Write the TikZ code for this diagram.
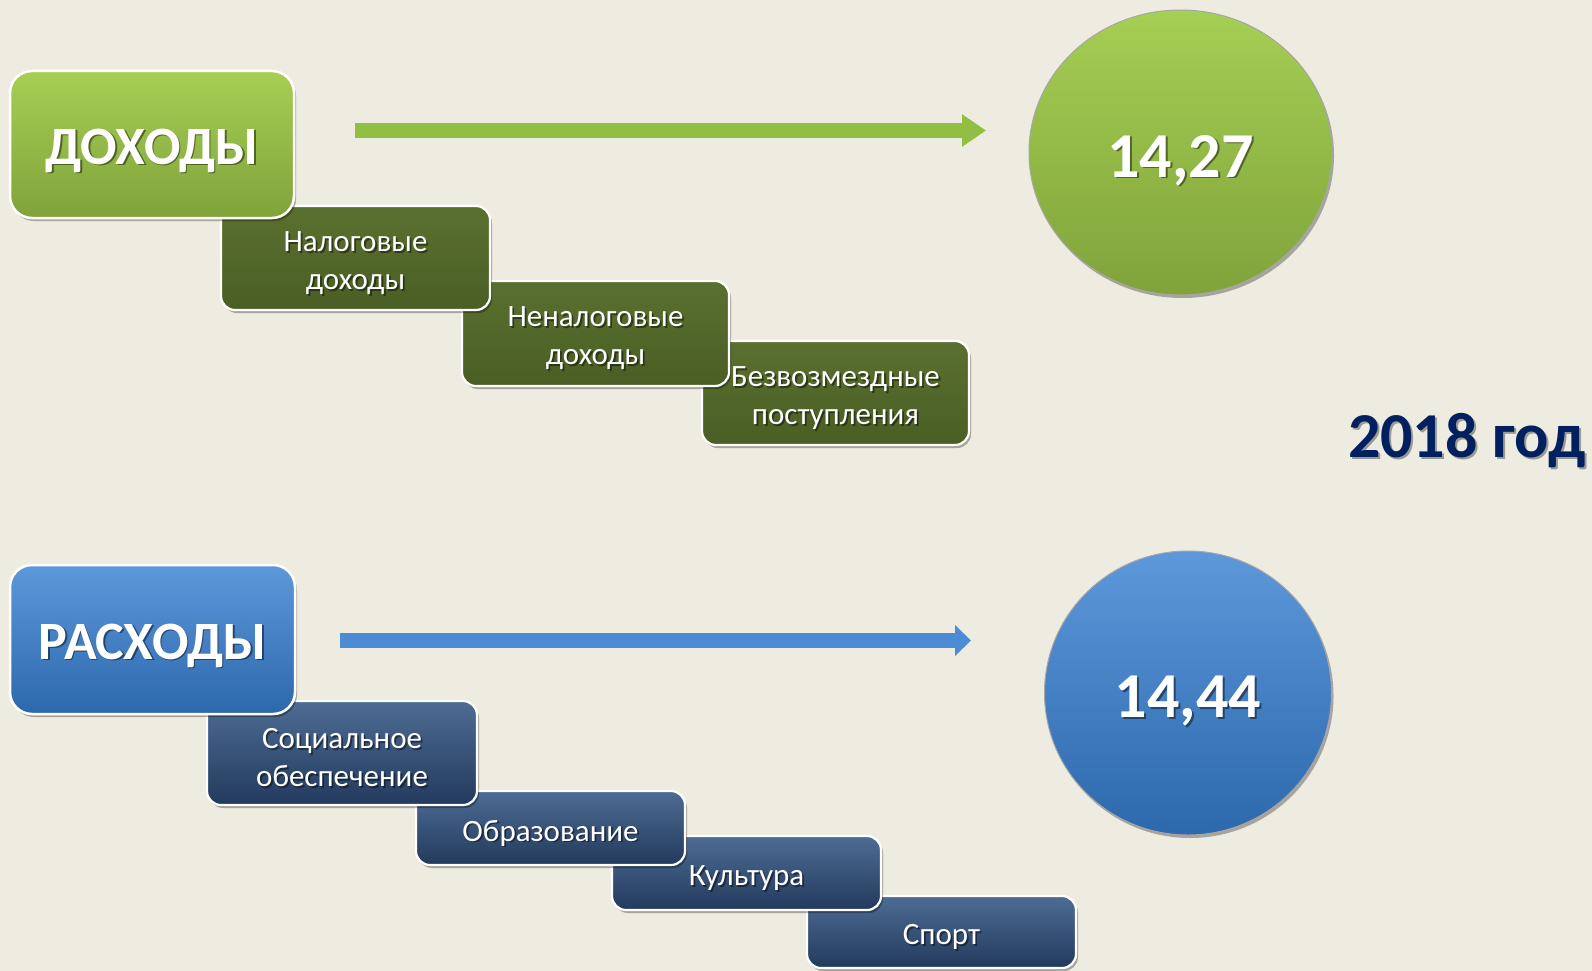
\documentclass[tikz,border=0pt]{standalone}
\usepackage{fontspec}
\setmainfont{Carlito}
\usetikzlibrary{shadows,arrows.meta,shapes.geometric}
\definecolor{bg}{RGB}{238,236,225}
\definecolor{gtop}{RGB}{166,207,84}
\definecolor{gbot}{RGB}{128,163,58}
\definecolor{dgtop}{RGB}{90,112,47}
\definecolor{dgbot}{RGB}{74,94,37}
\definecolor{btop}{RGB}{92,152,218}
\definecolor{bbot}{RGB}{44,104,172}
\definecolor{dbtop}{RGB}{78,108,148}
\definecolor{dbbot}{RGB}{34,58,92}
\definecolor{navy}{RGB}{0,32,96}
\definecolor{garr}{RGB}{146,190,68}
\definecolor{barr}{RGB}{76,140,215}
\newcommand\shtxt[4]{%
  \node[#3, text=black, opacity=0.45] (#1s) at ([shift={(1.8pt,-1.8pt)}]#2) {#4};
  \node[#3, text=white] (#1) at (#2) {#4};}
\tikzset{
  x=1pt, y=-1pt,
  boxshadow/.style={drop shadow={shadow xshift=2pt, shadow yshift=-3pt, opacity=0.3, fill=black}},
  mainbox/.style={rectangle, rounded corners=22pt, draw=white, line width=2.5pt, boxshadow},
  subbox/.style={rectangle, rounded corners=14pt, draw=white, line width=2.2pt, boxshadow},
  greenmain/.style={mainbox, top color=gtop, bottom color=gbot},
  bluemain/.style={mainbox, top color=btop, bottom color=bbot},
  greensub/.style={subbox, top color=dgtop, bottom color=dgbot},
  bluesub/.style={subbox, top color=dbtop, bottom color=dbbot},
  bigtxt/.style={font=\fontsize{54}{64}\selectfont\bfseries, inner sep=0pt, yshift=-6pt},
  subtxt/.style={font=\fontsize{31}{38}\selectfont, align=center, inner sep=0pt, yshift=-5pt},
  numtxt/.style={font=\fontsize{64}{76}\selectfont\bfseries, inner sep=0pt, yshift=-8pt},
  ball/.style={ellipse, draw=black!35, line width=1pt, boxshadow, inner sep=0pt},
  garrow/.style={draw=garr, line width=15pt, -{Triangle[length=24pt, width=31pt]}},
  barrow/.style={draw=barr, line width=15pt, -{Triangle[length=16pt, width=30pt]}},
}
\begin{document}
\begin{tikzpicture}
\fill[bg] (0,0) rectangle (1592,971);
\useasboundingbox (0,0) rectangle (1592,971);

% ---------- income ----------
\node[greensub, minimum width=267pt, minimum height=104pt] (bezv) at (835.5,393) {};
\node[greensub, minimum width=267pt, minimum height=105pt] (nenal) at (595.5,333.5) {};
\node[greensub, minimum width=269pt, minimum height=104pt] (nal) at (355.5,258) {};
\node[greenmain, minimum width=284pt, minimum height=147pt] (dox) at (152,144.5) {};

\shtxt{tdox}{dox}{bigtxt}{ДОХОДЫ}
\shtxt{tnal}{nal}{subtxt}{Налоговые\\доходы}
\shtxt{tnenal}{nenal}{subtxt}{Неналоговые\\доходы}
\shtxt{tbezv}{bezv}{subtxt}{Безвозмездные\\поступления}

\coordinate (gs) at (355,130.5);
\coordinate (ge) at (986,130.5);
\draw[garrow] (gs) -- (ge);

\node[ball, minimum width=303pt, minimum height=285pt, top color=gtop, bottom color=gbot] (gball) at (1180.5,152.5) {};
\shtxt{tgball}{gball}{numtxt}{14,27}

% ---------- year ----------
\node[font=\fontsize{64}{76}\selectfont\bfseries, text=black, opacity=0.35, inner sep=0pt] (years) at (1469,443) {2018 год};
\node[font=\fontsize{64}{76}\selectfont\bfseries, text=navy, inner sep=0pt] (year) at (1467,441) {2018 год};

% ---------- expenses ----------
\node[bluesub, minimum width=269pt, minimum height=72pt] (spo) at (941.5,932) {};
\node[bluesub, minimum width=269pt, minimum height=74pt] (kul) at (746.5,873) {};
\node[bluesub, minimum width=269pt, minimum height=74pt] (obr) at (550.5,828) {};
\node[bluesub, minimum width=270pt, minimum height=104pt] (soc) at (342,753) {};
\node[bluemain, minimum width=285pt, minimum height=149pt] (ras) at (152.5,639.5) {};

\shtxt{tras}{ras}{bigtxt}{РАСХОДЫ}
\shtxt{tsoc}{soc}{subtxt}{Социальное\\обеспечение}
\shtxt{tobr}{obr}{subtxt}{Образование}
\shtxt{tkul}{kul}{subtxt}{Культура}
\shtxt{tspo}{spo}{subtxt}{Спорт}

\coordinate (bs) at (340,640.5);
\coordinate (be) at (971,640.5);
\draw[barrow] (bs) -- (be);

\node[ball, minimum width=287pt, minimum height=284pt, top color=btop, bottom color=bbot] (bball) at (1188,693) {};
\shtxt{tbball}{bball}{numtxt}{14,44}
\end{tikzpicture}
\end{document}
